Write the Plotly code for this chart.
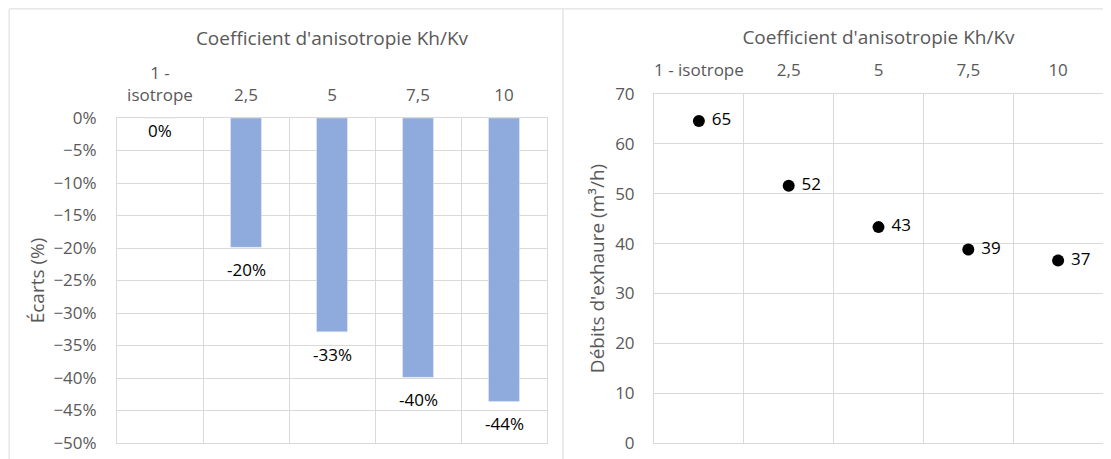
import plotly.graph_objects as go

# The page places the figure 8 px from the top-left corner (body margin),
# so the figure is sized to fill the rest of the 1111x459 window.
OFF = 8
W, H = 1111 - OFF, 459 - OFF

# ---- data ----
categories_left = ["1 -<br>isotrope", "2,5", "5", "7,5", "10"]
categories_right = ["1 - isotrope", "2,5", "5", "7,5", "10"]
ecarts = [0.0, -0.199, -0.329, -0.399, -0.436]
debits = [64.6, 51.6, 43.3, 38.8, 36.6]

x_title = "Coefficient d'anisotropie Kh/Kv"
y_title_left = "Écarts (%)"
y_title_right = "Débits d'exhaure (m³/h)"

FONT = "Open Sans, Segoe UI, sans-serif"
GRAY = "#595959"
GRID = "#D9D9D9"


def px_x(p):
    return (p - OFF) / W


def px_y(p):
    return 1 - (p - OFF) / H


fig = go.Figure()

fig.add_trace(go.Bar(
    x=categories_left, y=ecarts, marker_color="#8FAADC",
    xaxis="x", yaxis="y", showlegend=False, hoverinfo="x+y",
))

# data labels below bar ends (x given as category index)
for i, v in enumerate(ecarts):
    fig.add_annotation(
        x=i, y=v, xref="x", yref="y", text=f"{v:.0%}", showarrow=False,
        yanchor="top", yshift=1 if v == 0 else -9,
        font=dict(family=FONT, size=17, color="#000000"),
    )

fig.add_trace(go.Scatter(
    x=categories_right, y=debits, mode="markers+text",
    marker=dict(color="#000000", size=12),
    texttemplate="\u00a0%{y:.0f}", textposition="middle right",
    textfont=dict(family=FONT, size=17, color="#000000"),
    xaxis="x2", yaxis="y2", showlegend=False,
))

axis_common = dict(
    showgrid=True, gridcolor=GRID, gridwidth=1,
    showline=True, linecolor=GRID, linewidth=1, mirror=True,
    ticks="", zeroline=False, automargin=False,
    tickfont=dict(family=FONT, size=17, color=GRAY),
)
title_font = dict(family=FONT, size=19, color=GRAY)

fig.update_layout(
    width=W, height=H,
    margin=dict(l=0, r=0, t=0, b=0, autoexpand=False),
    paper_bgcolor="white", plot_bgcolor="white",
    font=dict(family=FONT, color=GRAY),
    bargap=0.64,
    xaxis=dict(
        domain=[px_x(117), px_x(547)], anchor="y", side="top",
        type="category", tickson="boundaries", range=[-0.5, 4.5],
        tickangle=0, ticklabelstandoff=9,
        title=dict(text=x_title, standoff=10, font=title_font),
        **axis_common,
    ),
    yaxis=dict(
        domain=[px_y(443), px_y(118)], anchor="x",
        range=[-0.5, 0], dtick=0.05, tickformat=".0%",
        ticklabelstandoff=16,
        title=dict(text=y_title_left, standoff=3, font=title_font),
        **axis_common,
    ),
    xaxis2=dict(
        domain=[px_x(654), px_x(1103)], anchor="y2", side="top",
        type="category", tickson="boundaries", range=[-0.5, 4.5],
        tickangle=0, ticklabelstandoff=10,
        title=dict(text=x_title, standoff=8, font=title_font),
        **axis_common,
    ),
    yaxis2=dict(
        domain=[px_y(443), px_y(94)], anchor="x2",
        range=[0, 70], dtick=10,
        ticklabelstandoff=15,
        title=dict(text=y_title_right, standoff=5, font=title_font),
        **axis_common,
    ),
    shapes=[
        dict(type="rect", xref="paper", yref="paper",
             x0=0.001, x1=1.01, y0=-0.05, y1=0.998,
             line=dict(color=GRID, width=1), layer="below"),
        dict(type="line", xref="paper", yref="paper",
             x0=px_x(563), x1=px_x(563), y0=-0.05, y1=0.998,
             line=dict(color=GRID, width=1), layer="below"),
    ],
)

fig.write_html("out.html")
